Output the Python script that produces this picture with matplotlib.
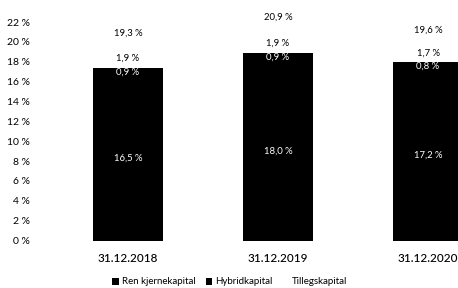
import matplotlib
matplotlib.use("Agg")
import matplotlib.pyplot as plt
from matplotlib.patches import Patch

plt.rcParams['font.family'] = ['Lato', 'DejaVu Sans']

categories = ["31.12.2018", "31.12.2019", "31.12.2020"]
ren = [16.5, 18.0, 17.2]
hybrid = [0.9, 0.9, 0.8]
tillegg = [1.9, 1.9, 1.7]
totals = [19.3, 20.9, 19.6]
yticks = [0, 2, 4, 6, 8, 10, 12, 14, 16, 18, 20, 22]
series_names = ["Ren kjernekapital", "Hybridkapital", "Tillegskapital"]

def fmt(v):
    return f"{v:.1f}".replace(".", ",") + " %"

fig = plt.figure(figsize=(4.58, 2.88), dpi=100)
ax = fig.add_axes([40/458, 1 - 240.5/288, 418/458, 218.5/288])

x = list(range(len(categories)))
w = 0.467
ax.bar(x, ren, w, color="black", edgecolor="none", linewidth=0)
bot2 = ren
ax.bar(x, hybrid, w, bottom=bot2, color="black", edgecolor="none", linewidth=0)
bot3 = [a + b for a, b in zip(ren, hybrid)]
ax.bar(x, tillegg, w, bottom=bot3, color="white", edgecolor="none")

for i in x:
    ax.text(i, ren[i] / 2, fmt(ren[i]), color="white", ha="center", va="center", fontsize=6.8)
    ax.text(i, ren[i] + hybrid[i] / 2, fmt(hybrid[i]), color="white", ha="center", va="center", fontsize=6.8)
    ax.text(i, bot3[i] + tillegg[i] / 2, fmt(tillegg[i]), color="black", ha="center", va="center", fontsize=6.8)
    ax.text(i, totals[i] + 1.55, fmt(totals[i]), color="black", ha="center", va="center", fontsize=6.8, clip_on=False)

ax.set_xlim(-0.5867, 2.2)
ax.set_ylim(0, 22)
ax.set_yticks(yticks)
ax.set_yticklabels([f"{t} %" for t in yticks], fontsize=7.5)
ax.set_xticks(x)
ax.set_xticklabels(categories, fontsize=8.5, fontweight="medium")
ax.tick_params(length=0)
ax.tick_params(axis="y", pad=7)
ax.tick_params(axis="x", pad=9)
for s in ax.spines.values():
    s.set_visible(False)

handles = [Patch(facecolor="black", edgecolor="none"),
           Patch(facecolor="black", edgecolor="none"),
           Patch(facecolor="white", edgecolor="none")]
fig.legend(handles, series_names, loc="center", bbox_to_anchor=(230/458, 1 - 282/288),
           ncol=3, frameon=False, fontsize=7, handlelength=0.7, handleheight=0.7,
           handletextpad=0.3, columnspacing=1.0)

fig.savefig("out.png", dpi=100)
